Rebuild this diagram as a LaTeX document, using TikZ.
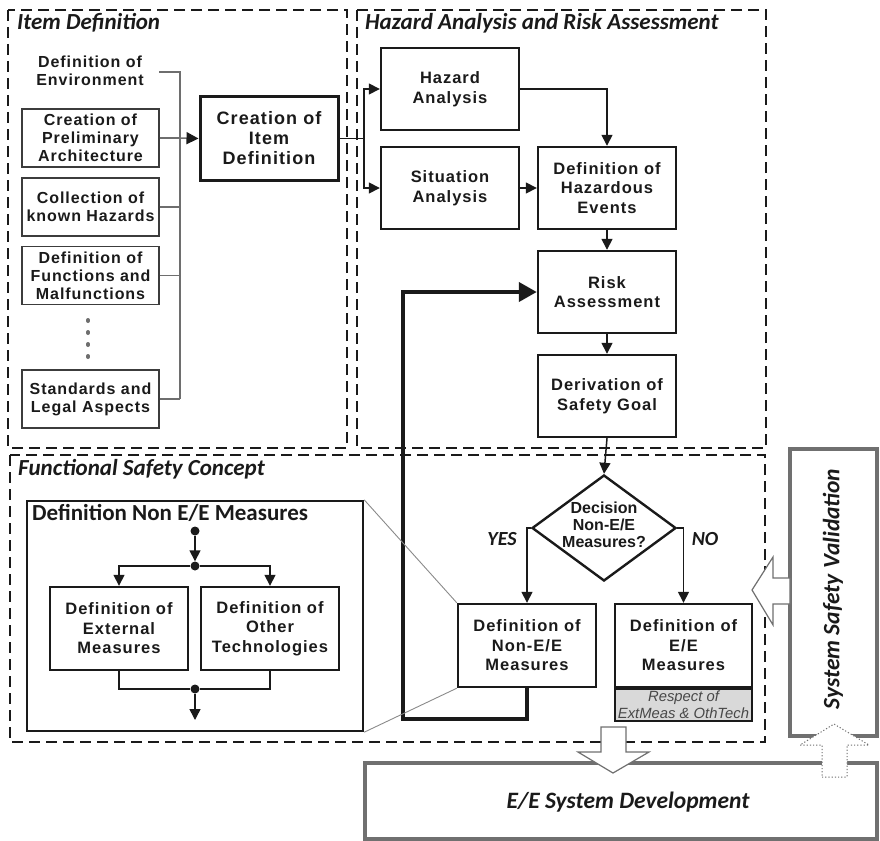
\documentclass[tikz,border=0pt]{standalone}
\usepackage{fontspec}
\setmainfont{Liberation Sans}
\newfontfamily\boxfamily[LetterSpace=6]{Liberation Sans}
\newfontfamily\califamily{Carlito}
\usetikzlibrary{arrows.meta,shapes.geometric,calc}
\definecolor{ink}{HTML}{1A1A1A}
\definecolor{wire}{HTML}{6E6E6E}
\definecolor{frame}{HTML}{707070}
\definecolor{respect}{HTML}{D9D9D9}
\definecolor{thinline}{HTML}{8A8A8A}
\begin{document}
\begin{tikzpicture}[x=1pt,y=-1pt,
  boxtext/.style={font=\boxfamily\bfseries\fontsize{16.5}{19.5}\selectfont, text=ink, align=center},
  stdbox/.style={boxtext, draw=ink, line width=2.4pt, inner sep=0pt, minimum width=138, minimum height=82},
  itembox/.style={boxtext, draw=ink!85, line width=1.4pt, inner sep=0pt, minimum width=137, minimum height=58, font=\boxfamily\bfseries\fontsize{16}{18}\selectfont},
  region/.style={draw=ink, line width=1.8pt, dash pattern=on 11pt off 6pt},
  title/.style={font=\califamily\bfseries\itshape\fontsize{23}{27}\selectfont, text=ink, anchor=west, inner sep=0pt},
  arr/.style={-{Triangle[length=11pt,width=11pt]}, line width=1.5pt, draw=ink},
  wireline/.style={draw=wire, line width=1.5pt},
  junc/.style={circle, fill=ink, inner sep=0pt, minimum size=9pt},
  hollow/.style={draw=frame, line width=1.2pt, fill=white, line join=miter},
  bigframe/.style={draw=frame, line width=4pt, inner sep=0pt},
]
\useasboundingbox (0,0) rectangle (880,840);

% regions
\draw[region] (8,10) rectangle (347,448);
\draw[region] (357,10) rectangle (766,448);
\draw[region] (10,455) rectangle (765,742);
\node[title] (tid) at (17,23) {Item Definition};
\node[title] (tha) at (365,23) {Hazard Analysis and Risk Assessment};
\node[title] (tfs) at (18,469) {Functional Safety Concept};

% item definition
\node[boxtext, font=\boxfamily\bfseries\fontsize{16}{18}\selectfont] (env) at (90,71) {Definition of\\Environment};
\node[itembox] (pre) at (90.5,138) {Creation of\\Preliminary\\Architecture};
\node[itembox] (haz) at (90.5,207) {Collection of\\known Hazards};
\node[itembox] (fun) at (90.5,275.5) {Definition of\\Functions and\\Malfunctions};
\node[itembox] (std) at (90.5,399) {Standards and\\Legal Aspects};
\draw[draw=wire, line width=4pt, line cap=round, dash pattern=on 1pt off 11pt] (88,320) -- (88,358);
\coordinate (envend) at (159,72);
\coordinate (bustop) at (180,72);
\coordinate (busbot) at (180,399);
\node[stdbox, line width=3pt, minimum height=83, font=\boxfamily\bfseries\fontsize{18}{20}\selectfont] (cid) at (269,138.5) {Creation of\\Item\\Definition};
\draw[wireline] (envend) -- (bustop) -- (busbot);
\draw[wireline] (pre.east) -- (pre.east -| bustop);
\draw[wireline] (haz.east) -- (haz.east -| bustop);
\draw[wireline] (fun.east) -- (fun.east -| bustop);
\draw[wireline] (std.east) -- (busbot);
\draw[wireline, -{Triangle[length=12pt,width=12pt,color=ink]}] (pre.east -| bustop) -- (cid.west);

% HARA
\node[stdbox] (ha) at (450,89) {Hazard\\Analysis};
\node[stdbox] (sa) at (450,188) {Situation\\Analysis};
\node[stdbox] (dhe) at (607,188) {Definition of\\Hazardous\\Events};
\node[stdbox] (ra) at (607,292) {Risk\\Assessment};
\node[stdbox] (dsg) at (607,396) {Derivation of\\Safety Goal};
\coordinate (split) at (364,138.5);
\draw[line width=1.5pt, draw=ink] (cid.east) -- (split);
\draw[arr] (split) |- (ha.west);
\draw[arr] (split) |- (sa.west);
\draw[arr] (ha.east) -| (dhe.north);
\draw[arr] (sa) -- (dhe);
\draw[arr] (dhe) -- (ra);
\draw[arr] (ra) -- (dsg);

% decision
\node[diamond, draw=ink, line width=2.4pt, minimum width=144, minimum height=106, inner sep=0pt] (dec) at (604,528) {};
\node[font=\bfseries\fontsize{16}{16.8}\selectfont, text=ink, align=center, inner sep=0pt] (dect) at (604,525) {Decision\\Non-E/E\\Measures?};
\draw[arr] (dsg.south) -- (dec.north);
\node[stdbox, minimum height=83] (nee) at (527,645.5) {Definition of\\Non-E/E\\Measures};
\node[stdbox, minimum width=137, minimum height=83] (ee) at (683.5,645.5) {Definition of\\E/E\\Measures};
\node[draw=ink, line width=1.4pt, fill=respect, minimum width=137, minimum height=32, inner sep=0pt, anchor=north, align=center, text=ink!80, font=\itshape\fontsize{14.8}{16.5}\selectfont] (resp) at (ee.south) {Respect of\\ExtMeas \& OthTech};
\draw[arr] (dec.west) -| (nee.north);
\draw[arr] (dec.east) -| (ee.north);
\node[font=\califamily\bfseries\itshape\fontsize{20}{24}\selectfont, text=ink] (yes) at (502,539) {YES};
\node[font=\califamily\bfseries\itshape\fontsize{20}{24}\selectfont, text=ink] (no) at (705,539) {NO};

% feedback
\coordinate (fb) at (403,719);
\draw[line width=4pt, draw=ink, line join=miter, -{Triangle[length=18pt,width=19pt]}] (nee.south) |- (fb) |- (ra.west);

% definition non E/E measures detail
\node[draw=ink, line width=2.4pt, minimum width=336, minimum height=230, inner sep=0pt] (dnb) at (195,616) {};
\node[font=\califamily\bfseries\fontsize{23}{27}\selectfont, text=ink, anchor=west, inner sep=0pt] (dnt) at (32,513) {Definition Non E/E Measures};
\node[junc] (j1) at (195,531) {};
\node[junc] (j2) at (195,566) {};
\node[junc] (j3) at (195,689) {};
\node[stdbox, minimum height=83] (ext) at (119,628.5) {Definition of\\External\\Measures};
\node[stdbox, minimum height=83] (oth) at (270,628.5) {Definition of\\Other\\Technologies};
\coordinate (outb) at (195,720);
\draw[arr] (j1) -- (j2);
\draw[arr] (j2) -| (ext.north);
\draw[arr] (j2) -| (oth.north);
\draw[line width=1.5pt, draw=ink] (ext.south) |- (j3) -| (oth.south);
\draw[arr] (j3) -- (outb);
\draw[draw=thinline, line width=0.9pt] (dnb.north east) -- (nee.north west);
\draw[draw=thinline, line width=0.9pt] (dnb.south east) -- (nee.south west);

% system safety validation and E/E development
\node[bigframe, minimum width=87, minimum height=287] (ssv) at (833.5,592.5) {};
\node[rotate=90, font=\califamily\bfseries\itshape\fontsize{23.5}{27}\selectfont, text=ink] (ssvt) at (833,589) {System Safety Validation};
\node[bigframe, minimum width=512, minimum height=76] (eed) at (621,801) {};
\node[font=\califamily\bfseries\itshape\fontsize{23.5}{27}\selectfont, text=ink] (eedt) at (628,802) {E/E System Development};

% hollow arrows
\draw[hollow] (752,590) -- (773,557) -- (773,578) -- (790,578) -- (790,604) -- (773,604) -- (773,625) -- cycle;
\draw[hollow] (601,727) -- (626,727) -- (626,752) -- (649,752) -- (613,773) -- (578,752) -- (601,752) -- cycle;
\draw[hollow, dotted, line width=1pt] (822,777) -- (847,777) -- (847,745) -- (869,745) -- (834,724) -- (800,745) -- (822,745) -- cycle;
\end{tikzpicture}
\end{document}
